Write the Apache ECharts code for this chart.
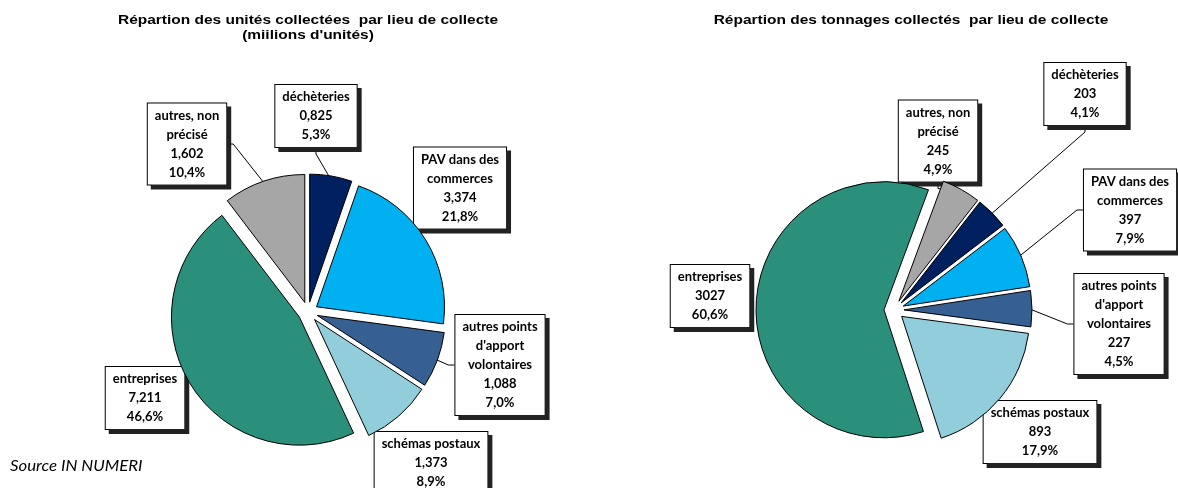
<!DOCTYPE html>
<html>
<head>
<meta charset="utf-8">
<script src="https://cdn.jsdelivr.net/npm/echarts@6/dist/echarts.min.js"></script>
<style>
  html, body { margin: 0; padding: 0; background: #fff; }
  #chart { width: 1178px; height: 488px; }
</style>
</head>
<body>
<div id="chart"></div>
<script>
// slices, clockwise from the start angle
var categories = ['déchèteries', 'PAV dans des\ncommerces', "autres points\nd'apport\nvolontaires", 'schémas postaux', 'entreprises', 'autres, non\nprécisé'];
var colors = ['#002060', '#00B0F0', '#366092', '#92CDDC', '#2A8F7B', '#A6A6A6'];

// millions d'unités
var unites = [0.825, 3.374, 1.088, 1.373, 7.211, 1.602];
var unitesPct = [5.3, 21.8, 7.0, 8.9, 46.6, 10.4];

// tonnes
var tonnages = [203, 397, 227, 893, 3027, 245];
var tonnagesPct = [4.1, 7.9, 4.5, 17.9, 60.6, 4.9];

// where the label boxes sit (centre of box) and which keep a leader line
var unitesLabelPos = [[316, 116], [460, 188], [500, 365], [431, 463], [145, 398], [187, 144]];
var unitesLines = [true, false, true, false, false, true];
var tonnagesLabelPos = [[1085, 94], [1130, 210], [1119, 324], [1040, 432], [710, 296], [938, 141]];
var tonnagesLines = [true, true, true, false, false, true];

function fmt(v, dec) {
    return v.toFixed(dec).replace('.', ',');
}

var labelStyle = {
    show: true,
    position: 'outside',
    color: '#000',
    fontFamily: 'Lato',
    fontWeight: 'bold',
    fontSize: 13,
    lineHeight: 19,
    align: 'center',
    backgroundColor: '#fff',
    borderColor: '#000',
    borderWidth: 1,
    padding: [3, 7, 2, 7],
    shadowColor: '#222',
    shadowOffsetX: 4,
    shadowOffsetY: 4,
    shadowBlur: 0
};

// exploded slices (selected state moves them out)
function slicesSeries(values, center, startAngle) {
    return {
        type: 'pie',
        center: center,
        radius: 128,
        startAngle: startAngle,
        clockwise: true,
        selectedMode: 'multiple',
        selectedOffset: 10,
        animation: false,
        silent: true,
        itemStyle: { borderColor: '#000', borderWidth: 1 },
        select: { itemStyle: { borderColor: '#000', borderWidth: 1 } },
        label: { show: false },
        labelLine: { show: false },
        data: values.map(function (v, i) {
            return { name: categories[i], value: v, selected: true, itemStyle: { color: colors[i] } };
        })
    };
}

// invisible copy of the pie that carries the boxed labels
function labelSeries(values, pcts, dec, center, startAngle, labelPos, lines) {
    return {
        type: 'pie',
        center: center,
        radius: 135,
        startAngle: startAngle,
        clockwise: true,
        avoidLabelOverlap: false,
        animation: false,
        silent: true,
        itemStyle: { color: 'rgba(0,0,0,0)', borderWidth: 0 },
        label: labelStyle,
        labelLine: {
            show: true,
            length: 10,
            length2: 6,
            lineStyle: { color: '#000', width: 1 }
        },
        labelLayout: function (p) {
            var pos = labelPos[p.dataIndex];
            return { x: pos[0], y: pos[1], align: 'center', verticalAlign: 'middle' };
        },
        data: values.map(function (v, i) {
            return {
                name: categories[i],
                value: v,
                labelLine: { show: lines[i] },
                label: { formatter: categories[i] + '\n' + fmt(v, dec) + '\n' + fmt(pcts[i], 1) + '%' }
            };
        })
    };
}

var chart = echarts.init(document.getElementById('chart'), null, { renderer: 'canvas' });

chart.setOption({
    animation: false,
    graphic: [
        {
            type: 'text', x: 308, y: 13, scaleX: 1.19,
            style: {
                text: "Répartion des unités collectées  par lieu de collecte\n(miilions d'unités)",
                fill: '#000', fontFamily: 'Liberation Sans', fontWeight: 'bold', fontSize: 13,
                textAlign: 'center', lineHeight: 15
            }
        },
        {
            type: 'text', x: 911, y: 14, scaleX: 1.19,
            style: {
                text: 'Répartion des tonnages collectés  par lieu de collecte',
                fill: '#000', fontFamily: 'Liberation Sans', fontWeight: 'bold', fontSize: 13,
                textAlign: 'center'
            }
        },
        {
            type: 'text', x: 10, y: 459, scaleX: 1.12,
            style: { text: 'Source IN NUMERI', fill: '#000', fontFamily: 'Lato', fontStyle: 'italic', fontSize: 15 }
        }
    ],
    series: [
        slicesSeries(unites, [308, 312], 90),
        labelSeries(unites, unitesPct, 3, [308, 312], 90, unitesLabelPos, unitesLines),
        slicesSeries(tonnages, [894, 310], 52),
        labelSeries(tonnages, tonnagesPct, 0, [894, 310], 52, tonnagesLabelPos, tonnagesLines)
    ]
});
</script>
</body>
</html>
